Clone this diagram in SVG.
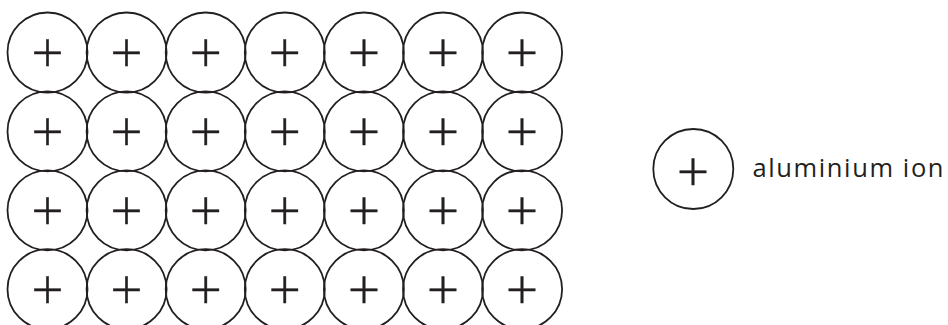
<svg xmlns="http://www.w3.org/2000/svg" width="948" height="325" viewBox="0 0 948 325">
<style>
.ion{fill:none;stroke:#231f20;stroke-width:1.8}
.p{font-family:"Open Sans","Liberation Sans",sans-serif;font-weight:300;font-size:57px;fill:#231f20;stroke:#231f20;stroke-width:0.4;text-anchor:middle}
.lbl{font-family:"Open Sans","Liberation Sans",sans-serif;font-size:25.5px;fill:#231f20}
</style>
<rect width="948" height="325" fill="#fff"/>
<g id="lattice">
<g id="r1c1"><circle class="ion" cx="47.5" cy="52.5" r="40"/><text class="p" x="47.5" y="72.8">+</text></g>
<g id="r1c2"><circle class="ion" cx="126.6" cy="52.5" r="40"/><text class="p" x="126.6" y="72.8">+</text></g>
<g id="r1c3"><circle class="ion" cx="205.7" cy="52.5" r="40"/><text class="p" x="205.7" y="72.8">+</text></g>
<g id="r1c4"><circle class="ion" cx="284.8" cy="52.5" r="40"/><text class="p" x="284.8" y="72.8">+</text></g>
<g id="r1c5"><circle class="ion" cx="363.9" cy="52.5" r="40"/><text class="p" x="363.9" y="72.8">+</text></g>
<g id="r1c6"><circle class="ion" cx="443" cy="52.5" r="40"/><text class="p" x="443" y="72.8">+</text></g>
<g id="r1c7"><circle class="ion" cx="522.1" cy="52.5" r="40"/><text class="p" x="522.1" y="72.8">+</text></g>
<g id="r2c1"><circle class="ion" cx="47.5" cy="131.4" r="40"/><text class="p" x="47.5" y="151.7">+</text></g>
<g id="r2c2"><circle class="ion" cx="126.6" cy="131.4" r="40"/><text class="p" x="126.6" y="151.7">+</text></g>
<g id="r2c3"><circle class="ion" cx="205.7" cy="131.4" r="40"/><text class="p" x="205.7" y="151.7">+</text></g>
<g id="r2c4"><circle class="ion" cx="284.8" cy="131.4" r="40"/><text class="p" x="284.8" y="151.7">+</text></g>
<g id="r2c5"><circle class="ion" cx="363.9" cy="131.4" r="40"/><text class="p" x="363.9" y="151.7">+</text></g>
<g id="r2c6"><circle class="ion" cx="443" cy="131.4" r="40"/><text class="p" x="443" y="151.7">+</text></g>
<g id="r2c7"><circle class="ion" cx="522.1" cy="131.4" r="40"/><text class="p" x="522.1" y="151.7">+</text></g>
<g id="r3c1"><circle class="ion" cx="47.5" cy="210.3" r="40"/><text class="p" x="47.5" y="230.6">+</text></g>
<g id="r3c2"><circle class="ion" cx="126.6" cy="210.3" r="40"/><text class="p" x="126.6" y="230.6">+</text></g>
<g id="r3c3"><circle class="ion" cx="205.7" cy="210.3" r="40"/><text class="p" x="205.7" y="230.6">+</text></g>
<g id="r3c4"><circle class="ion" cx="284.8" cy="210.3" r="40"/><text class="p" x="284.8" y="230.6">+</text></g>
<g id="r3c5"><circle class="ion" cx="363.9" cy="210.3" r="40"/><text class="p" x="363.9" y="230.6">+</text></g>
<g id="r3c6"><circle class="ion" cx="443" cy="210.3" r="40"/><text class="p" x="443" y="230.6">+</text></g>
<g id="r3c7"><circle class="ion" cx="522.1" cy="210.3" r="40"/><text class="p" x="522.1" y="230.6">+</text></g>
<g id="r4c1"><circle class="ion" cx="47.5" cy="289.2" r="40"/><text class="p" x="47.5" y="309.5">+</text></g>
<g id="r4c2"><circle class="ion" cx="126.6" cy="289.2" r="40"/><text class="p" x="126.6" y="309.5">+</text></g>
<g id="r4c3"><circle class="ion" cx="205.7" cy="289.2" r="40"/><text class="p" x="205.7" y="309.5">+</text></g>
<g id="r4c4"><circle class="ion" cx="284.8" cy="289.2" r="40"/><text class="p" x="284.8" y="309.5">+</text></g>
<g id="r4c5"><circle class="ion" cx="363.9" cy="289.2" r="40"/><text class="p" x="363.9" y="309.5">+</text></g>
<g id="r4c6"><circle class="ion" cx="443" cy="289.2" r="40"/><text class="p" x="443" y="309.5">+</text></g>
<g id="r4c7"><circle class="ion" cx="522.1" cy="289.2" r="40"/><text class="p" x="522.1" y="309.5">+</text></g>
</g>
<g id="legend">
<circle class="ion" cx="693.3" cy="169" r="40"/><text class="p" x="693" y="191.8">+</text>
<text class="lbl" x="752.5" y="176.7" textLength="191" lengthAdjust="spacing">aluminium ion</text>
</g>
<g id="connectors"/>
</svg>
